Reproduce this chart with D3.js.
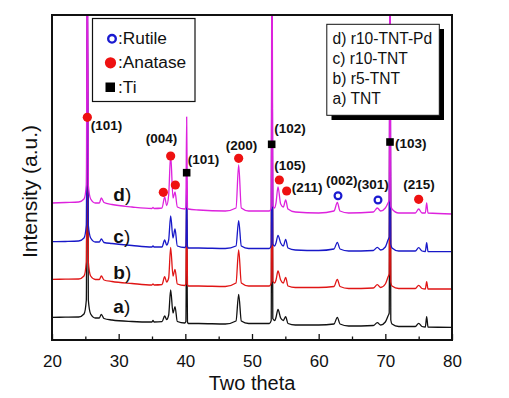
<!DOCTYPE html>
<html><head><meta charset="utf-8">
<script src="https://cdn.jsdelivr.net/npm/d3@7"></script>
<style>html,body{margin:0;padding:0;background:#fff;} svg{display:block;font-family:"Liberation Sans",Arial,sans-serif;}</style>
</head><body><svg id="chart" width="509" height="398"></svg>
<script>
// ---- data (2θ grid shared by all patterns, intensity in a.u.) ----
const twoTheta = [20,22,24,24.8,25.15,25.3,25.45,25.8,26.5,27.1,27.4,27.8,29,32,35,35.15,35.3,36.5,36.9,37.2,37.5,37.8,38.15,38.45,38.8,39.9,40.08,40.2,40.32,40.45,42,46,47.6,48.0,48.4,49.5,52.6,52.88,53.0,53.12,53.4,53.6,53.9,54.3,54.7,55.05,55.4,56.5,60,62.3,62.8,63.2,64.5,68.2,68.8,69.3,70.0,70.4,70.58,70.7,70.82,71.0,72,74.5,75.0,75.5,76.0,76.2,76.4,80];
const tnt = [227,228,230,260,400,3000,400,260,220,220,257,215,200,185,180,195,180,183,240,205,250,500,270,333,185,170,185,1200,180,165,165,160,190,457,190,165,165,195,3000,215,195,225,307,220,195,233,165,150,150,160,227,160,140,145,173,150,180,240,270,3000,200,160,135,135,167,135,130,233,130,127];
const r5tnt = [607,608,610,640,780,3300,780,640,605,605,640,600,585,565,550,560,550,555,633,580,620,927,640,707,560,545,560,1500,555,540,540,535,570,900,570,540,540,570,3300,590,570,600,690,600,570,627,540,525,525,535,607,535,515,520,553,525,560,630,660,3300,580,540,515,515,547,515,510,583,510,510];
const r10tnt = [983,985,990,1020,1150,3600,1150,1020,980,980,1010,975,965,945,930,942,930,930,1000,950,1000,1240,1020,1110,940,925,940,1600,935,920,920,915,940,1193,940,915,915,945,3600,960,940,970,1047,970,940,1007,920,900,895,910,977,910,890,895,927,900,930,1000,1030,3600,960,920,890,890,923,890,885,973,885,883];
const r10tntPd = [1370,1375,1380,1410,1550,4500,1550,1410,1370,1370,1420,1375,1355,1330,1315,1325,1315,1320,1430,1345,1450,1850,1420,1480,1330,1310,1330,2230,1320,1310,1300,1290,1320,1750,1320,1290,1290,1320,4500,1340,1320,1370,1530,1360,1330,1400,1310,1280,1270,1290,1375,1290,1270,1280,1320,1290,1320,1370,1400,4500,1340,1310,1270,1270,1310,1270,1270,1370,1270,1260];
const curveLetters = ["a","b","c","d"];
const curveLabelTheta = 29.2;
const curveLabelIntensity = [270, 610, 970, 1390];

const anataseTheta = [25.3, 36.7, 37.8, 38.5, 48.0, 54.1, 55.2, 75.0];
const anataseIntensity = [2227, 1477, 1840, 1550, 1817, 1600, 1490, 1407];
const tiTheta = [40.2, 52.95, 70.7];
const tiIntensity = [1673, 1957, 1980];
const rutileTheta = [62.9, 68.9];
const rutileIntensity = [1443, 1400];

const peakLabels = ["(101)","(004)","(101)","(200)","(102)","(105)","(211)","(002)","(301)","(103)","(215)"];
const peakLabelTheta = [25.8, 34.05, 40.35, 46.05, 53.35, 53.35, 55.95, 61.1, 65.8, 71.45, 72.7];
const peakLabelIntensity = [2100, 1970, 1760, 1900, 2070, 1700, 1480, 1550, 1510, 1920, 1510];

const phaseLegend = [":Rutile", ":Anatase", ":Ti"];
const sampleLegend = ["d) r10-TNT-Pd", "c) r10-TNT", "b) r5-TNT", "a) TNT"];
const majorTicks = [20,30,40,50,60,70,80];
const minorTicks = [25,35,45,55,65,75];

// ---- drawing ----
const svg = d3.select("#chart");
const L = 52, R = 452, T = 15, B = 340;
const x = d3.scaleLinear().domain([20, 80]).range([L, R]);
const y = d3.scaleLinear().domain([0, 3250]).range([B, T]);

svg.append("defs").append("clipPath").attr("id","clip")
  .append("rect").attr("x",L).attr("y",T).attr("width",R-L).attr("height",B-T);

const series = [tnt, r5tnt, r10tnt, r10tntPd];
const colors = ["#111111", "#e01515", "#1818c8", "#dd22dd"];
const line = d3.line().x(d => x(d[0])).y(d => y(d[1])).curve(d3.curveMonotoneX);
const gLines = svg.append("g").attr("clip-path","url(#clip)");
series.forEach((vals, i) => {
  gLines.append("path")
    .datum(twoTheta.map((t, k) => [t, vals[k]]))
    .attr("d", line).attr("fill","none")
    .attr("stroke", colors[i]).attr("stroke-width", 1.3).attr("stroke-linejoin","round");
});

// curve letters
curveLetters.forEach((c, i) => {
  const t = svg.append("text").attr("x", x(curveLabelTheta)).attr("y", y(curveLabelIntensity[i]))
    .attr("font-size", 19).attr("fill","#111");
  t.append("tspan").attr("font-weight","bold").text(c);
  t.append("tspan").text(")");
});

// markers
svg.selectAll("circle.anatase").data(anataseTheta).join("circle").attr("class","anatase")
  .attr("cx", d => x(d)).attr("cy", (d,i) => y(anataseIntensity[i])).attr("r", 4.6).attr("fill","#ee1111");
svg.selectAll("rect.ti").data(tiTheta).join("rect").attr("class","ti")
  .attr("x", d => x(d) - 3.8).attr("y", (d,i) => y(tiIntensity[i]) - 3.8).attr("width",7.6).attr("height",7.6).attr("fill","#000");
svg.selectAll("circle.rutile").data(rutileTheta).join("circle").attr("class","rutile")
  .attr("cx", d => x(d)).attr("cy", (d,i) => y(rutileIntensity[i])).attr("r", 3.4)
  .attr("fill","#fff").attr("stroke","#1a1ad0").attr("stroke-width",2.2);

// peak labels
svg.selectAll("text.pk").data(peakLabels).join("text").attr("class","pk")
  .attr("x", (d,i) => x(peakLabelTheta[i])).attr("y", (d,i) => y(peakLabelIntensity[i]))
  .attr("font-size", 13.5).attr("font-weight","bold").attr("fill","#111").text(d => d);

// phase legend
const lg1 = svg.append("g");
lg1.append("rect").attr("x",92.5).attr("y",18.5).attr("width",102.5).attr("height",83)
  .attr("fill","#fff").attr("stroke","#111").attr("stroke-width",1.2);
const lg1y = [44.3, 68.3, 92.7];
lg1.append("circle").attr("cx",112).attr("cy",lg1y[0]-5.5).attr("r",3.8).attr("fill","none")
  .attr("stroke","#1a1ad0").attr("stroke-width",2.4);
lg1.append("circle").attr("cx",110.5).attr("cy",lg1y[1]-5.5).attr("r",5.6).attr("fill","#ee1111");
lg1.append("rect").attr("x",105.5).attr("y",lg1y[2]-10.2).attr("width",9.5).attr("height",9.5).attr("fill","#000");
phaseLegend.forEach((t, i) => {
  lg1.append("text").attr("x",118).attr("y",lg1y[i]).attr("font-size",17.3).attr("fill","#111").text(t);
});

// sample legend with shadow
const lg2 = svg.append("g");
lg2.append("rect").attr("x",331.5).attr("y",29).attr("width",112.5).attr("height",91).attr("fill","#000");
lg2.append("rect").attr("x",326.8).attr("y",24.3).attr("width",112.5).attr("height",91)
  .attr("fill","#fff").attr("stroke","#111").attr("stroke-width",1);
sampleLegend.forEach((t, i) => {
  lg2.append("text").attr("x",332.5).attr("y",44.3 + i*20).attr("font-size",15.6).attr("fill","#111").text(t);
});

// frame
svg.append("rect").attr("x",L).attr("y",T).attr("width",R-L).attr("height",B-T)
  .attr("fill","none").attr("stroke","#111").attr("stroke-width",2);

// x axis
const ax = svg.append("g").attr("transform",`translate(0,${B})`)
  .call(d3.axisBottom(x).tickValues(majorTicks).tickSizeInner(-6).tickSizeOuter(0).tickPadding(15).tickFormat(d3.format("d")));
ax.select(".domain").remove();
ax.selectAll(".tick line").attr("stroke","#111").attr("stroke-width",1.3);
ax.selectAll(".tick text").attr("font-size",17).attr("fill","#111").attr("font-family","Liberation Sans, Arial, sans-serif");
const axm = svg.append("g").attr("transform",`translate(0,${B})`)
  .call(d3.axisBottom(x).tickValues(minorTicks).tickSizeInner(-3.5).tickSizeOuter(0).tickFormat(""));
axm.select(".domain").remove();
axm.selectAll(".tick line").attr("stroke","#111").attr("stroke-width",1.3);

// titles
svg.append("text").attr("x",(L+R)/2).attr("y",390).attr("text-anchor","middle")
  .attr("font-size",20).attr("fill","#111").text("Two theta");
svg.append("text").attr("transform",`translate(37,191.5) rotate(-90)`).attr("text-anchor","middle")
  .attr("font-size",21).attr("fill","#111").text("Intensity (a.u.)");
</script></body></html>
